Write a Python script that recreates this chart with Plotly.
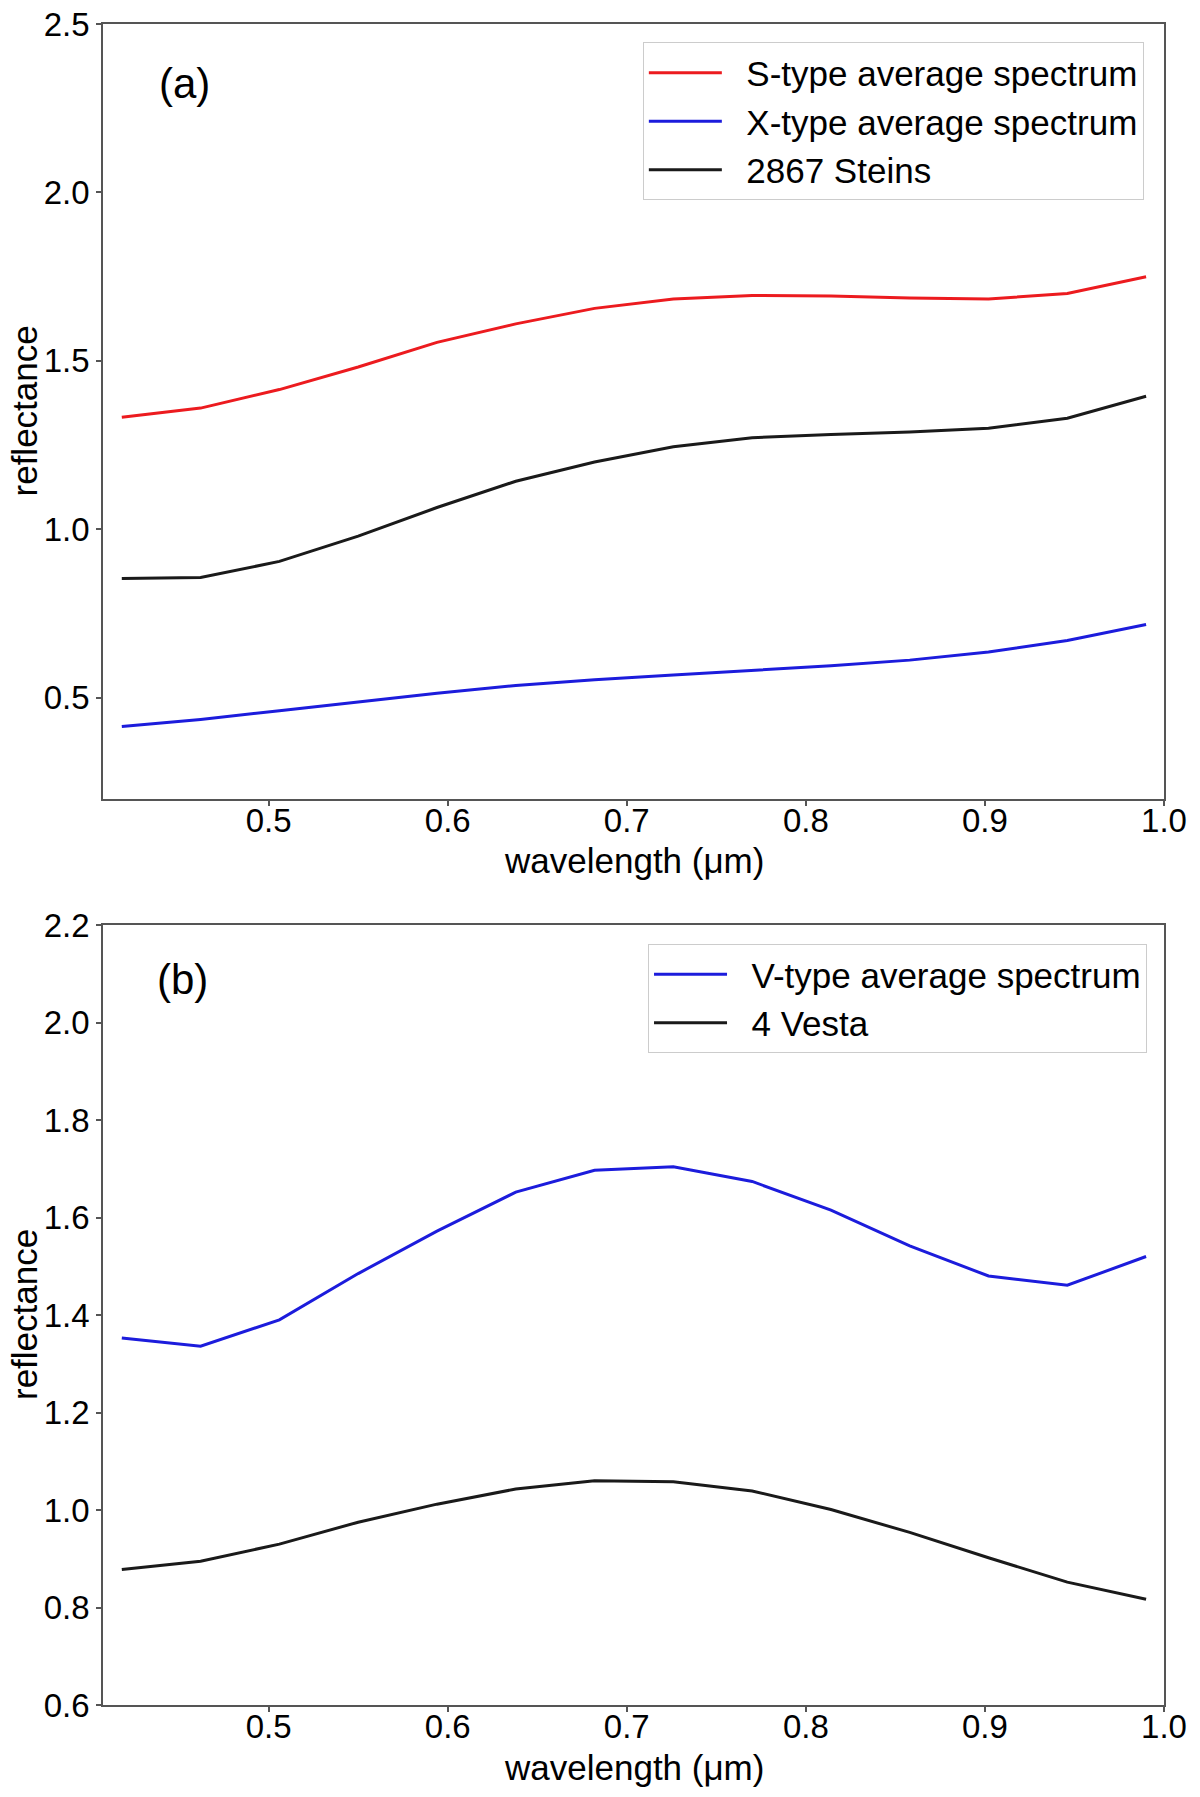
import plotly.graph_objects as go

# wavelength grid (um), shared by all spectra
wavelength = [0.418, 0.462, 0.506, 0.550, 0.594, 0.638, 0.682,
              0.726, 0.770, 0.814, 0.858, 0.902, 0.946, 0.990]

# panel (a)
s_type = [1.333, 1.360, 1.415, 1.482, 1.555, 1.610, 1.656,
          1.684, 1.694, 1.693, 1.687, 1.684, 1.700, 1.750]
x_type = [0.415, 0.436, 0.462, 0.489, 0.514, 0.537, 0.554,
          0.568, 0.582, 0.595, 0.612, 0.636, 0.670, 0.718]
steins = [0.854, 0.857, 0.905, 0.980, 1.065, 1.143, 1.200,
          1.245, 1.272, 1.282, 1.289, 1.300, 1.330, 1.395]

# panel (b)
v_type = [1.353, 1.336, 1.390, 1.485, 1.572, 1.652, 1.697,
          1.704, 1.674, 1.615, 1.542, 1.480, 1.461, 1.520]
vesta = [0.878, 0.895, 0.930, 0.975, 1.012, 1.043, 1.060,
         1.058, 1.039, 1.001, 0.954, 0.902, 0.852, 0.817]

FONT = "Liberation Sans, Arial, sans-serif"
AXIS_COLOR = "#555555"
PAD = "\u00a0\u00a0"  # gap between legend line and its label

fig = go.Figure()

fig.add_trace(go.Scatter(x=wavelength, y=s_type, mode="lines", name=PAD + "S-type average spectrum",
                         line=dict(color="#ec1b1f", width=3), xaxis="x", yaxis="y", legend="legend"))
fig.add_trace(go.Scatter(x=wavelength, y=x_type, mode="lines", name=PAD + "X-type average spectrum",
                         line=dict(color="#1c1cdc", width=3), xaxis="x", yaxis="y", legend="legend"))
fig.add_trace(go.Scatter(x=wavelength, y=steins, mode="lines", name=PAD + "2867 Steins",
                         line=dict(color="#1a1a1a", width=3), xaxis="x", yaxis="y", legend="legend"))

fig.add_trace(go.Scatter(x=wavelength, y=v_type, mode="lines", name=PAD + "V-type average spectrum",
                         line=dict(color="#1c1cdc", width=3), xaxis="x2", yaxis="y2", legend="legend2"))
fig.add_trace(go.Scatter(x=wavelength, y=vesta, mode="lines", name=PAD + "4 Vesta",
                         line=dict(color="#1a1a1a", width=3), xaxis="x2", yaxis="y2", legend="legend2"))

axis_style = dict(
    showline=True, mirror=True, linecolor=AXIS_COLOR, linewidth=1.5,
    ticks="outside", ticklen=5, tickcolor=AXIS_COLOR, tickwidth=1.5,
    showgrid=False, zeroline=False, automargin=False, ticklabeloverflow="allow",
    tickfont=dict(size=33, color="black", family=FONT),
)
x_style = dict(axis_style, ticklabelstandoff=-13)

legend_style = dict(
    xanchor="right", yanchor="top", itemwidth=73,
    bgcolor="rgba(255,255,255,0.8)", bordercolor="#cccccc", borderwidth=1,
    font=dict(size=35, color="black", family=FONT),
)

title_font = dict(size=35, color="black", family=FONT)


def y_title(ax):
    return dict(text="reflectance", x=0, y=0.5, xref=ax + " domain", yref=ax.replace("x", "y") + " domain",
                xshift=-79, textangle=-90, showarrow=False, xanchor="center", yanchor="middle",
                borderpad=0, font=title_font)


def x_title(ax):
    return dict(text="wavelength (μm)", x=0.5, y=0, xref=ax + " domain", yref=ax.replace("x", "y") + " domain",
                yshift=-62, showarrow=False, xanchor="center", yanchor="middle", font=title_font)


# page body has an 8px margin, so the figure is sized to fit the window
fig.update_layout(
    width=1184, height=1781,
    margin=dict(l=95, r=28, t=16, b=84),
    plot_bgcolor="white", paper_bgcolor="white",
    font=dict(family=FONT, size=35, color="black"),
    xaxis=dict(x_style, domain=[0, 1], range=[0.4075, 1.0], dtick=0.1, tick0=0.5,
               tickformat=".1f", anchor="y"),
    yaxis=dict(axis_style, domain=[0.539, 1], range=[0.2, 2.5], dtick=0.5, tick0=0.5,
               tickformat=".1f", anchor="x"),
    xaxis2=dict(x_style, domain=[0, 1], range=[0.4075, 1.0], dtick=0.1, tick0=0.5,
                tickformat=".1f", anchor="y2"),
    yaxis2=dict(axis_style, domain=[0, 0.464], range=[0.6, 2.2], dtick=0.2, tick0=0.6,
                tickformat=".1f", anchor="x2"),
    legend=dict(legend_style, x=0.981, y=0.989),
    legend2=dict(legend_style, x=0.984, y=0.4527),
    annotations=[
        dict(text="(a)", x=0.453, y=2.324, xref="x", yref="y", showarrow=False,
             xanchor="center", yanchor="middle", font=dict(size=42, color="black", family=FONT)),
        dict(text="(b)", x=0.452, y=2.088, xref="x2", yref="y2", showarrow=False,
             xanchor="center", yanchor="middle", font=dict(size=42, color="black", family=FONT)),
        y_title("x"), y_title("x2"),
        x_title("x"), x_title("x2"),
    ],
)

fig.write_html("out.html")
